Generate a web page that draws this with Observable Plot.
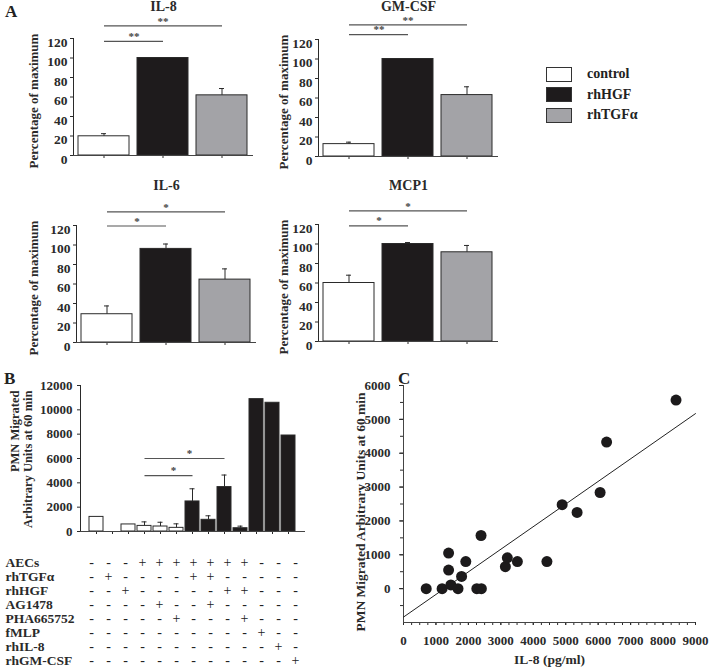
<!DOCTYPE html>
<html><head><meta charset="utf-8">
<script src="https://cdn.jsdelivr.net/npm/d3@7"></script>
<script src="https://cdn.jsdelivr.net/npm/@observablehq/plot@0.6"></script>
<style>
body{margin:0;background:#fff;}
#fig{position:relative;width:711px;height:671px;overflow:hidden;font-family:"Liberation Serif","Times New Roman",serif;font-weight:bold;color:#222;}
#fig svg{position:absolute;background:transparent;overflow:visible;}
.plbl{position:absolute;font-size:17px;font-weight:bold;line-height:1;}
.leg{position:absolute;font-size:14px;font-weight:bold;display:flex;align-items:center;}
.leg span.box{display:inline-block;width:24px;height:13px;border:1.5px solid #333;margin-right:15px;}
</style></head><body><div id="fig"></div>
<script>
// ---------- Panel A data ----------
const groups = ["control", "rhHGF", "rhTGFα"];
const groupColors = ["#ffffff", "#1e1b1c", "#a3a3a7"];
const il8Values = [19.7, 100, 61.7];
const il8Errors = [2.7, 0, 7];
const gmcsfValues = [12.7, 100, 63];
const gmcsfErrors = [2, 0, 8.5];
const il6Values = [29, 96, 64.5];
const il6Errors = [8.5, 5, 11];
const mcp1Values = [60, 100, 91.5];
const mcp1Errors = [8, 1.5, 7];
const il8Sig = [{from: "control", to: "rhHGF", y: 117, label: "**"}, {from: "control", to: "rhTGFα", y: 133, label: "**"}];
const gmcsfSig = [{from: "control", to: "rhHGF", y: 125, label: "**"}, {from: "control", to: "rhTGFα", y: 135, label: "**"}];
const il6Sig = [{from: "control", to: "rhHGF", y: 119.5, label: "*"}, {from: "control", to: "rhTGFα", y: 134, label: "*"}];
const mcp1Sig = [{from: "control", to: "rhHGF", y: 118.5, label: "*"}, {from: "control", to: "rhTGFα", y: 134, label: "*"}];
const aTicks = [0, 20, 40, 60, 80, 100, 120];

// ---------- Panel B data ----------
const bConditions = ["1","2","3","4","5","6","7","8","9","10","11","12","13"];
const bValues = [1200, 0, 580, 460, 410, 300, 2470, 960, 3650, 270, 10880, 10580, 7890];
const bErrors = [0, 0, 0, 330, 350, 330, 1040, 330, 990, 170, 0, 0, 0];
const bStyle = ["open","open","open","open","open","open","solid","solid","solid","solid","solid","solid","solid"];
const bSig = [{from: "4", to: "7", y: 4600, label: "*", at: "6"}, {from: "4", to: "9", y: 6000, label: "*", at: "7"}];
const bTicks = [0, 2000, 4000, 6000, 8000, 10000, 12000];
const tableRows = ["AECs", "rhTGFα", "rhHGF", "AG1478", "PHA665752", "fMLP", "rhIL-8", "rhGM-CSF"];
const tableSigns = ["---+++++++---", "-+----++-----", "--+-----++---", "----+--+-----", "-----+---+---", "----------+--", "-----------+-", "------------+"];

// ---------- Panel C data ----------
const cIL8 = [700, 1190, 1460, 1390, 1390, 1680, 1790, 1920, 2260, 2400, 2390, 3140, 3200, 3510, 4420, 4890, 5350, 6060, 6260, 8400];
const cPMN = [0, 0, 110, 1050, 550, 0, 360, 800, 0, 0, 1570, 650, 910, 800, 800, 2480, 2250, 2840, 4330, 5570];
const cFitX = [0, 9000];
const cFitY = [-840, 5170];
const cXTicks = [0, 1000, 2000, 3000, 4000, 5000, 6000, 7000, 8000, 9000];
const cYTicks = [0, 1000, 2000, 3000, 4000, 5000, 6000];

const FONT = '"Liberation Serif","Times New Roman",serif';
const INK = "#2a2a2a";
const plain = d => String(d);
const fig = document.getElementById("fig");
function place(el, left, top) { el.style.left = left + "px"; el.style.top = top + "px"; fig.appendChild(el); }
function baseStyle(size) { return {fontFamily: FONT, fontWeight: "bold", fontSize: size + "px", color: INK, background: "transparent", overflow: "visible"}; }

// ---------- Panel A ----------
function panelA(name, values, errors, sig, pos) {
  const data = groups.map((g, i) => ({group: g, value: values[i], err: errors[i]}));
  const errs = data.filter(d => d.err > 0);
  const mt = 55, fh = 117, mb = 15, fw = 180;
  const p = Plot.plot({
    width: 262, height: mt + fh + mb,
    marginLeft: pos.ml, marginRight: 262 - pos.ml - fw, marginTop: mt, marginBottom: mb,
    style: baseStyle(13),
    x: {domain: groups, paddingInner: 0.13, paddingOuter: 0.07, tickFormat: () => "", tickSize: 3, label: null},
    y: {domain: [0, 120], ticks: aTicks, tickSize: 3, tickFormat: () => "", label: null, line: true},
    color: {domain: groups, range: groupColors},
    marks: [
      Plot.barY(data, {x: "group", y: "value", fill: "group", stroke: INK, strokeWidth: 1}),
      Plot.ruleX(errs, {x: "group", y1: "value", y2: d => d.value + d.err, stroke: INK}),
      Plot.tickY(errs, {x: "group", y: d => d.value + d.err, insetLeft: 23, insetRight: 23, stroke: INK}),
      Plot.ruleY([0], {stroke: "#444"}),
      Plot.text(aTicks, {y: d => d, text: plain, frameAnchor: "left", textAnchor: "end", dx: -6, dy: 4, fontSize: 13.5}),
      Plot.link(sig, {x1: "from", x2: "to", y1: "y", y2: "y", stroke: "#555", strokeWidth: 1.2}),
      Plot.text(sig.filter(s => s.to === "rhTGFα"), {x: "to", y: "y", text: "label", dx: -59, dy: -4, fill: "#444", fontSize: 11}),
      Plot.text(sig.filter(s => s.to === "rhHGF"), {x: "from", y: "y", text: "label", dx: 30, dy: -5, fill: "#444", fontSize: 11}),
      Plot.text([name], {frameAnchor: "top", lineAnchor: "middle", dy: pos.titleDy, fontSize: 14}),
      Plot.text(["Percentage of maximum"], {frameAnchor: "left", textAnchor: "middle", rotate: -90, dx: -pos.lo, dy: 4, fontSize: 13})
    ]
  });
  place(p, pos.left, pos.top);
}
panelA("IL-8", il8Values, il8Errors, il8Sig, {left: 0, top: 37.6 - 55, ml: 73, titleDy: -31.5, lo: 40});
panelA("GM-CSF", gmcsfValues, gmcsfErrors, gmcsfSig, {left: 245, top: 39 - 55, ml: 73, titleDy: -32.5, lo: 35});
panelA("IL-6", il6Values, il6Errors, il6Sig, {left: 0, top: 224.5 - 55, ml: 76, titleDy: -40, lo: 43});
panelA("MCP1", mcp1Values, mcp1Errors, mcp1Sig, {left: 245, top: 223.5 - 55, ml: 73, titleDy: -39, lo: 35});

// legend
groups.forEach((g, i) => {
  const d = document.createElement("div");
  d.className = "leg";
  d.innerHTML = `<span class="box" style="background:${groupColors[i]}"></span>${g}`;
  place(d, 546, 66 + i * 20.7);
});

// ---------- Panel B ----------
{
  const data = bConditions.map((c, i) => ({c, value: bValues[i], err: bErrors[i], style: bStyle[i]})).filter(d => d.value > 0);
  const errs = data.filter(d => d.err > 0);
  const ml = 80, mt = 20, fh = 146, mb = 10, W = 320;
  const xOpts = {domain: bConditions, paddingInner: 0.11, paddingOuter: 0.25};
  const p = Plot.plot({
    width: W, height: mt + fh + mb,
    marginLeft: ml, marginRight: W - ml - 225, marginTop: mt, marginBottom: mb,
    style: baseStyle(13),
    x: {...xOpts, tickFormat: () => "", tickSize: 3, label: null},
    y: {domain: [0, 12000], ticks: bTicks, tickSize: 3, tickPadding: 5, tickFormat: plain, label: null, line: true},
    color: {domain: ["open", "solid"], range: ["#ffffff", "#1e1b1c"]},
    marks: [
      Plot.barY(data, {x: "c", y: "value", fill: "style", stroke: INK, strokeWidth: 1}),
      Plot.ruleX(errs, {x: "c", y1: "value", y2: d => d.value + d.err, stroke: INK}),
      Plot.tickY(errs, {x: "c", y: d => d.value + d.err, insetLeft: 4.5, insetRight: 4.5, stroke: INK}),
      Plot.ruleY([0], {stroke: "#444"}),
      Plot.link(bSig, {x1: "from", x2: "to", y1: "y", y2: "y", stroke: "#555", strokeWidth: 1.2}),
      Plot.text(bSig, {x: "at", y: "y", text: "label", dx: -3, dy: -5, fill: "#444", fontSize: 11}),
      Plot.text(["PMN Migrated\nArbitrary Units at 60 min"], {frameAnchor: "top-left", rotate: -90, textAnchor: "end", lineAnchor: "top", lineHeight: 1.05, dx: -71, dy: 5, fontSize: 12.5})
    ]
  });
  place(p, 0, 385 - mt);

  // condition table
  const cells = [];
  tableRows.forEach((r, i) => tableSigns[i].split("").forEach((s, j) => cells.push({row: r, c: bConditions[j], s})));
  const tmt = 15, tmb = 8;
  const t = Plot.plot({
    width: W, height: tmt + 103 + tmb,
    marginLeft: ml, marginRight: W - ml - 225, marginTop: tmt, marginBottom: tmb,
    style: baseStyle(13),
    x: {...xOpts, axis: null},
    y: {domain: tableRows, padding: 0, axis: null},
    marks: [
      Plot.text(cells, {x: "c", y: "row", text: "s", fontWeight: "normal", fontSize: 14, fill: "#222"}),
      Plot.text(tableRows, {y: d => d, text: d => d, frameAnchor: "left", textAnchor: "start", dx: -75, fontSize: 13.5})
    ]
  });
  place(t, 0, 559 - tmt);
}

// ---------- Panel C ----------
{
  const pts = cIL8.map((x, i) => ({x, y: cPMN[i]}));
  const fit = cFitX.map((x, i) => ({x, y: cFitY[i]}));
  const ml = 63, mt = 15, fh = 237, mb = 45, W = 371;
  const p = Plot.plot({
    width: W, height: mt + fh + mb,
    marginLeft: ml, marginRight: W - ml - 292, marginTop: mt, marginBottom: mb,
    style: baseStyle(13),
    x: {domain: [0, 9000], label: null},
    y: {domain: [-1000, 6000], label: null},
    marks: [
      Plot.axisX({ticks: d3.range(0, 9001, 250), tickSize: 3, tickFormat: () => ""}),
      Plot.axisX({ticks: cXTicks, tickSize: 3, tickPadding: 10, tickFormat: plain}),
      Plot.axisY({ticks: d3.range(-500, 6001, 500), tickSize: 3, tickFormat: () => ""}),
      Plot.axisY({ticks: cYTicks, tickSize: 4, tickPadding: 9, tickFormat: plain}),
      Plot.ruleY([-1000], {stroke: "#444"}),
      Plot.ruleX([0], {stroke: "#444"}),
      Plot.line(fit, {x: "x", y: "y", stroke: "#222", strokeWidth: 1}),
      Plot.dot(pts, {x: "x", y: "y", r: 5.5, fill: "#1c1a1b"}),
      Plot.text(["IL-8 (pg/ml)"], {frameAnchor: "bottom", dy: 41, fontSize: 13.5}),
      Plot.text(["PMN Migrated Arbitrary Units at 60 min"], {frameAnchor: "left", textAnchor: "middle", rotate: -90, dx: -43, dy: 8, fontSize: 13.5})
    ]
  });
  place(p, 340, 385 - mt);
}

// panel letters
[["A", 5, 3], ["B", 4, 370], ["C", 398, 370]].forEach(([s, x, y]) => {
  const d = document.createElement("div");
  d.className = "plbl"; d.textContent = s; place(d, x, y);
});
</script></body></html>
